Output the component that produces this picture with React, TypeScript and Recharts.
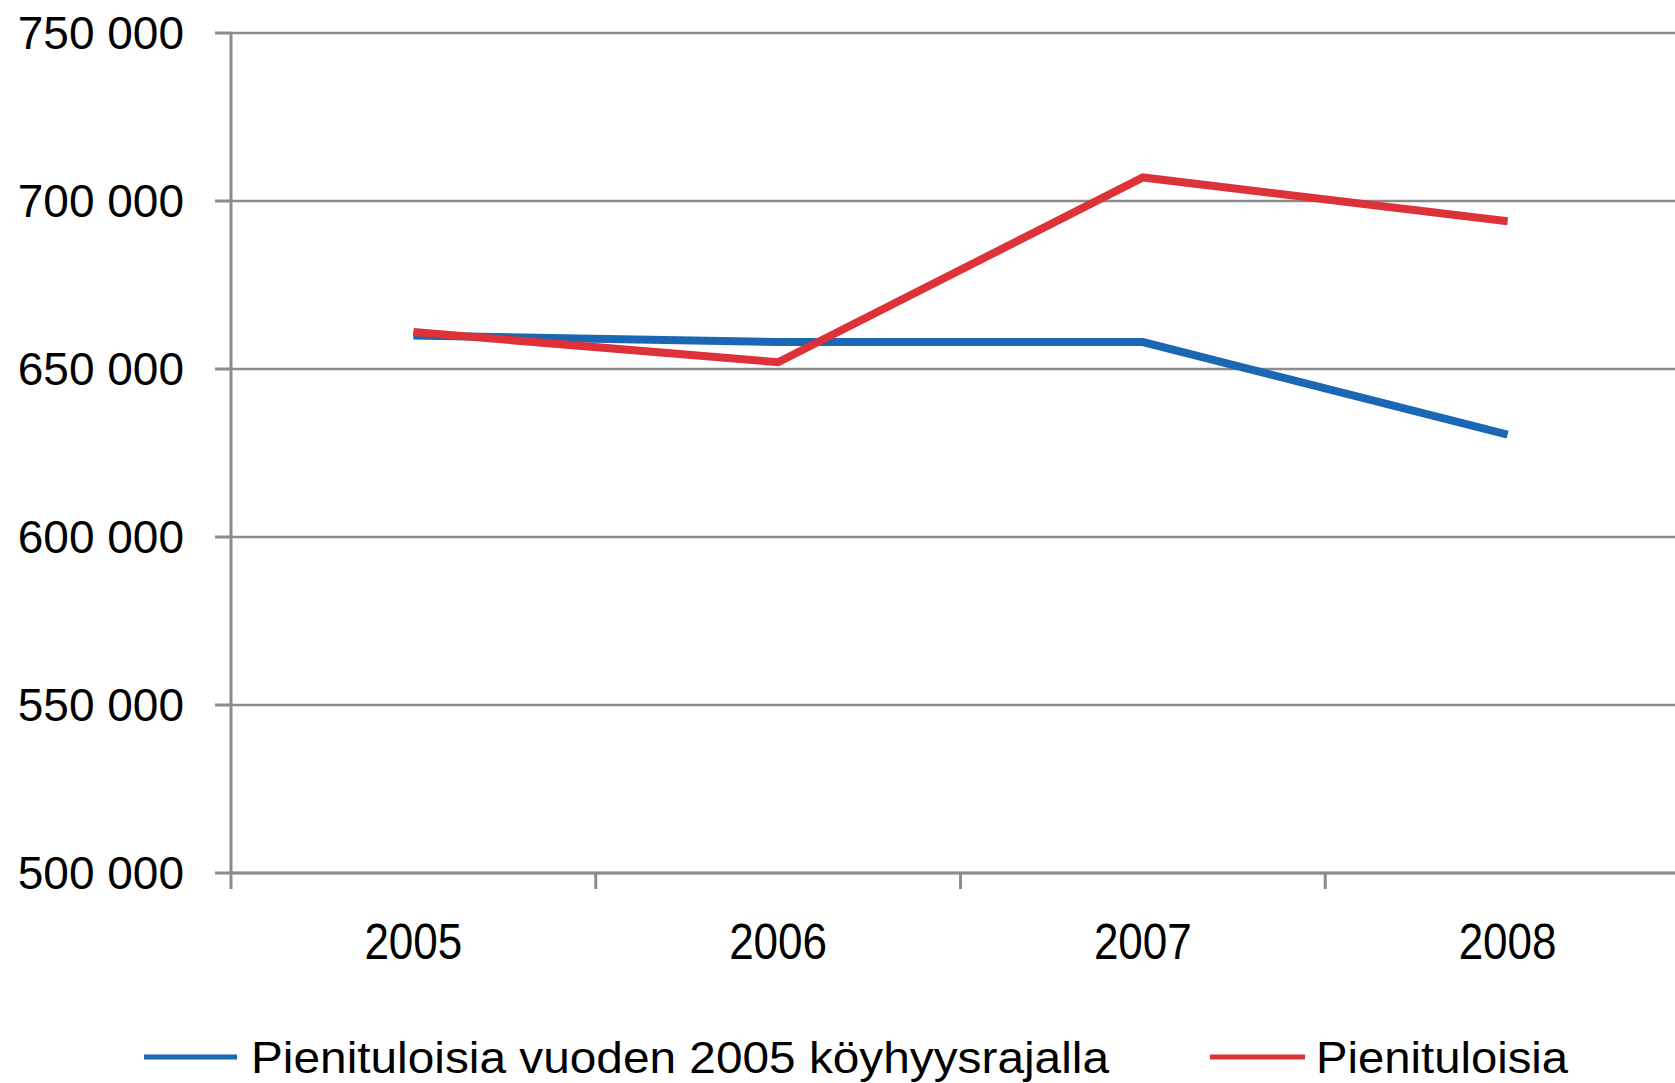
import React from 'react';
import { LineChart, Line, XAxis, YAxis, CartesianGrid, Legend } from 'recharts';

const years = ['2005', '2006', '2007', '2008'];
const poorAt2005Line = [660000, 658000, 658000, 630500];
const lowIncome = [661000, 652000, 707000, 694000];
const yTicks = [500000, 550000, 600000, 650000, 700000, 750000];

const data = years.map((year, i) => ({
    year,
    fixed: poorAt2005Line[i],
    low: lowIncome[i],
}));

const GRID = '#8c8c8c';
const FONT = '"Liberation Sans", Arial, sans-serif';

const fmt = (v: number) => String(v).replace(/\B(?=(\d{3})+(?!\d))/g, ' ');

const XTick = (props: any) => {
    const { x, y, payload } = props;
    const off = payload && payload.offset ? payload.offset : 182;
    return (
        <g>
            <line x1={x - off} y1={y - 52} x2={x - off} y2={y - 36} stroke={GRID} strokeWidth={3} />
            <text
                x={x}
                y={y}
                dy={34}
                textAnchor="middle"
                fontFamily={FONT}
                fontSize={50}
                fill="#000"
                textLength={98}
                lengthAdjust="spacingAndGlyphs"
            >
                {payload.value}
            </text>
        </g>
    );
};

const legendLayout: Record<string, { x1: number; x2: number; tx: number; len: number }> = {
    fixed: { x1: 144, x2: 237, tx: 251, len: 858 },
    low: { x1: 1210, x2: 1305, tx: 1316, len: 252 },
};

const renderLegend = (props: any) => {
    const { payload } = props;
    return (
        <svg width={1675} height={60}>
            {payload.map((p: any) => {
                const l = legendLayout[p.dataKey];
                if (!l) return null;
                return (
                    <g key={p.dataKey}>
                        <line x1={l.x1} y1={27} x2={l.x2} y2={27} stroke={p.color} strokeWidth={5} />
                        <text
                            x={l.tx}
                            y={43}
                            fontFamily={FONT}
                            fontSize={45}
                            fill="#000"
                            textLength={l.len}
                            lengthAdjust="spacingAndGlyphs"
                        >
                            {p.value}
                        </text>
                    </g>
                );
            })}
        </svg>
    );
};

export default function App() {
    return (
        <div style={{ position: 'fixed', left: 0, top: 0, width: 1675, height: 1083, overflow: 'hidden', background: '#fff' }}>
            <LineChart width={1690} height={1083} data={data} margin={{ top: 33, right: 0, left: 0, bottom: 0 }}>
                <CartesianGrid vertical={false} stroke={GRID} strokeWidth={2.5} />
                <XAxis
                    dataKey="year"
                    scale="band"
                    height={210}
                    axisLine={{ stroke: GRID, strokeWidth: 3 }}
                    tickLine={false}
                    tickSize={16}
                    tickMargin={36}
                    tick={<XTick />}
                    interval={0}
                />
                <YAxis
                    width={231}
                    domain={[500000, 750000]}
                    ticks={yTicks}
                    tickFormatter={fmt}
                    axisLine={{ stroke: GRID, strokeWidth: 3 }}
                    tickLine={{ stroke: GRID, strokeWidth: 3 }}
                    tickSize={16}
                    tickMargin={31}
                    tick={{ fill: '#000', fontSize: 46, fontFamily: FONT }}
                    interval={0}
                />
                <Legend
                    layout="horizontal"
                    verticalAlign="middle"
                    content={renderLegend}
                    wrapperStyle={{ top: 1030, left: 0, width: 1675, height: 60 }}
                />
                <Line
                    name="Pienituloisia vuoden 2005  köyhyysrajalla"
                    dataKey="fixed"
                    stroke="#1a67b3"
                    strokeWidth={8}
                    dot={false}
                    type="linear"
                    isAnimationActive={false}
                />
                <Line
                    name="Pienituloisia"
                    dataKey="low"
                    stroke="#dc3238"
                    strokeWidth={8}
                    dot={false}
                    type="linear"
                    isAnimationActive={false}
                />
            </LineChart>
        </div>
    );
}
